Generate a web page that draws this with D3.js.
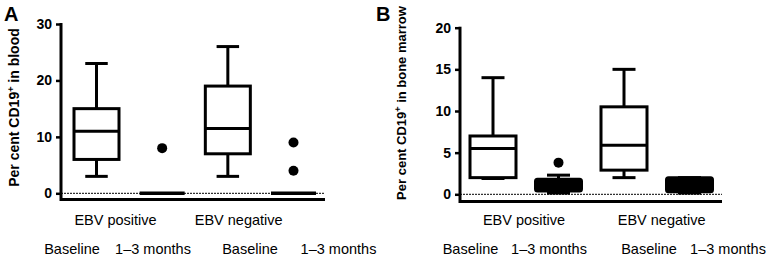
<!DOCTYPE html>
<html>
<head>
<meta charset="utf-8">
<script src="https://cdn.jsdelivr.net/npm/d3@7"></script>
<style>
  body { margin: 0; background: #fff; }
  svg { font-family: "Liberation Sans", Arial, sans-serif; }
</style>
</head>
<body>
<div id="chart"></div>
<script>
// groups along the x axis
const groups = ["posBase", "posPost", "negBase", "negPost"];
const groupLabels = ["EBV positive", "EBV negative"];
const timeLabels = ["Baseline", "1\u20133 months", "Baseline", "1\u20133 months"];

// panel A - per cent CD19+ in blood: [min, q1, median, q3, max]
const bloodStats = [
  [3, 6, 11, 15, 23],
  [0, 0, 0, 0, 0],
  [3, 7, 11.5, 19, 26],
  [0, 0, 0, 0, 0]
];
const bloodOutliers = [[], [8], [], [9, 4]];
const bloodTicks = [0, 10, 20, 30];

// panel B - per cent CD19+ in bone marrow
const marrowStats = [
  [1.9, 2, 5.5, 7, 14],
  [0.15, 0.4, 1, 1.8, 2.3],
  [2, 2.9, 5.9, 10.5, 15],
  [0.15, 0.3, 1, 2, 2]
];
const marrowOutliers = [[], [3.8], [], []];
const marrowTicks = [0, 5, 10, 15, 20];
const marrowFilled = [false, true, false, true];

const svg = d3.select("#chart").append("svg")
  .attr("width", 777)
  .attr("height", 257);

function drawPanel(opt) {
  const g = svg.append("g");

  const y = d3.scaleLinear()
    .domain([0, opt.max])
    .range([opt.y0, opt.y1]);

  const x = d3.scalePoint()
    .domain(groups)
    .range(opt.xRange);

  // dotted zero line
  g.append("line")
    .attr("x1", opt.axisX).attr("x2", opt.axisEnd)
    .attr("y1", y(0)).attr("y2", y(0))
    .attr("stroke", "#000")
    .attr("stroke-width", 1)
    .attr("stroke-dasharray", "2,1");

  const yAxis = d3.axisLeft(y)
    .tickValues(opt.ticks)
    .tickSize(5)
    .tickPadding(4)
    .tickFormat(d3.format("d"));

  const ax = g.append("g")
    .attr("transform", `translate(${opt.axisX},0)`)
    .call(yAxis);
  ax.select(".domain").remove();
  ax.selectAll(".tick line").attr("stroke-width", 2.5);
  ax.selectAll("text")
    .style("font-size", "14px")
    .style("font-weight", "bold")
    .style("font-family", "'Liberation Sans', Arial, sans-serif");

  // axis lines
  g.append("line")
    .attr("x1", opt.axisX).attr("x2", opt.axisX)
    .attr("y1", y(opt.max) - 1).attr("y2", opt.baseY + 1.5)
    .attr("stroke", "#000").attr("stroke-width", 3);
  g.append("line")
    .attr("x1", opt.axisX).attr("x2", opt.axisEnd)
    .attr("y1", opt.baseY).attr("y2", opt.baseY)
    .attr("stroke", "#000").attr("stroke-width", 3);

  const bw = opt.boxWidth;
  const cw = bw / 2;

  opt.stats.forEach((s, i) => {
    const cx = x(groups[i]);
    const [mn, q1, md, q3, mx] = s;
    const bg = g.append("g");
    if (q3 === q1) {
      bg.append("line")
        .attr("x1", cx - bw / 2).attr("x2", cx + bw / 2)
        .attr("y1", y(md)).attr("y2", y(md))
        .attr("stroke", "#000").attr("stroke-width", 3.5);
      return;
    }
    // whiskers
    bg.append("line")
      .attr("x1", cx).attr("x2", cx)
      .attr("y1", y(mx)).attr("y2", y(q3))
      .attr("stroke", "#000").attr("stroke-width", 3);
    bg.append("line")
      .attr("x1", cx).attr("x2", cx)
      .attr("y1", y(q1)).attr("y2", y(mn))
      .attr("stroke", "#000").attr("stroke-width", 3);
    [mn, mx].forEach(v => {
      bg.append("line")
        .attr("x1", cx - cw / 2).attr("x2", cx + cw / 2)
        .attr("y1", y(v)).attr("y2", y(v))
        .attr("stroke", "#000").attr("stroke-width", 3);
    });
    const filled = opt.filled && opt.filled[i];
    bg.append("rect")
      .attr("x", cx - bw / 2)
      .attr("y", y(q3))
      .attr("width", bw)
      .attr("height", y(q1) - y(q3))
      .attr("rx", filled ? 2 : 0)
      .attr("fill", filled ? "#000" : "#fff")
      .attr("stroke", "#000")
      .attr("stroke-width", 3);
    bg.append("line")
      .attr("x1", cx - bw / 2).attr("x2", cx + bw / 2)
      .attr("y1", y(md)).attr("y2", y(md))
      .attr("stroke", "#000").attr("stroke-width", 3);
  });

  opt.outliers.forEach((arr, i) => {
    g.selectAll(null)
      .data(arr)
      .enter()
      .append("circle")
      .attr("cx", x(groups[i]))
      .attr("cy", d => y(d))
      .attr("r", 5)
      .attr("fill", "#000");
  });

  // category labels
  g.selectAll(".grp")
    .data(groupLabels)
    .enter()
    .append("text")
    .attr("x", (d, i) => opt.groupX[i])
    .attr("y", 225)
    .attr("text-anchor", "middle")
    .style("font-size", "14.5px")
    .text(d => d);

  g.selectAll(".time")
    .data(timeLabels)
    .enter()
    .append("text")
    .attr("x", (d, i) => opt.timeX[i])
    .attr("y", 254)
    .attr("text-anchor", "middle")
    .style("font-size", "14.5px")
    .text(d => d);

  // y title
  const t = g.append("text")
    .attr("transform", `translate(${opt.titleX},${opt.titleY}) rotate(-90)`)
    .attr("text-anchor", "middle")
    .style("font-size", opt.titleSize + "px")
    .style("font-weight", "bold");
  t.append("tspan").text(opt.titlePre);
  t.append("tspan").attr("dy", -5).style("font-size", "9px").text("+");
  t.append("tspan").attr("dy", 5).text(opt.titlePost);

  // panel letter
  g.append("text")
    .attr("x", opt.letterX).attr("y", 21)
    .style("font-size", "20px")
    .style("font-weight", "bold")
    .text(opt.letter);
}

drawPanel({
  stats: bloodStats, outliers: bloodOutliers, ticks: bloodTicks, max: 30,
  y0: 193.3, y1: 24, baseY: 199.5, axisX: 61, axisEnd: 325,
  xRange: [96.5, 293.5], boxWidth: 45,
  groupX: [115.5, 238.7], timeX: [72, 153, 250, 338.5],
  titleX: 19, titleY: 107.5, titleSize: 14,
  titlePre: "Per cent CD19", titlePost: " in blood",
  letter: "A", letterX: 4
});

drawPanel({
  stats: marrowStats, outliers: marrowOutliers, ticks: marrowTicks, max: 20,
  y0: 194.3, y1: 27.7, baseY: 201.5, axisX: 460, axisEnd: 722,
  xRange: [493, 689.5], boxWidth: 46, filled: marrowFilled,
  groupX: [524, 661.7], timeX: [470.5, 549, 649, 728],
  titleX: 406, titleY: 103, titleSize: 13,
  titlePre: "Per cent  CD19", titlePost: " in bone marrow",
  letter: "B", letterX: 376
});
</script>
</body>
</html>
